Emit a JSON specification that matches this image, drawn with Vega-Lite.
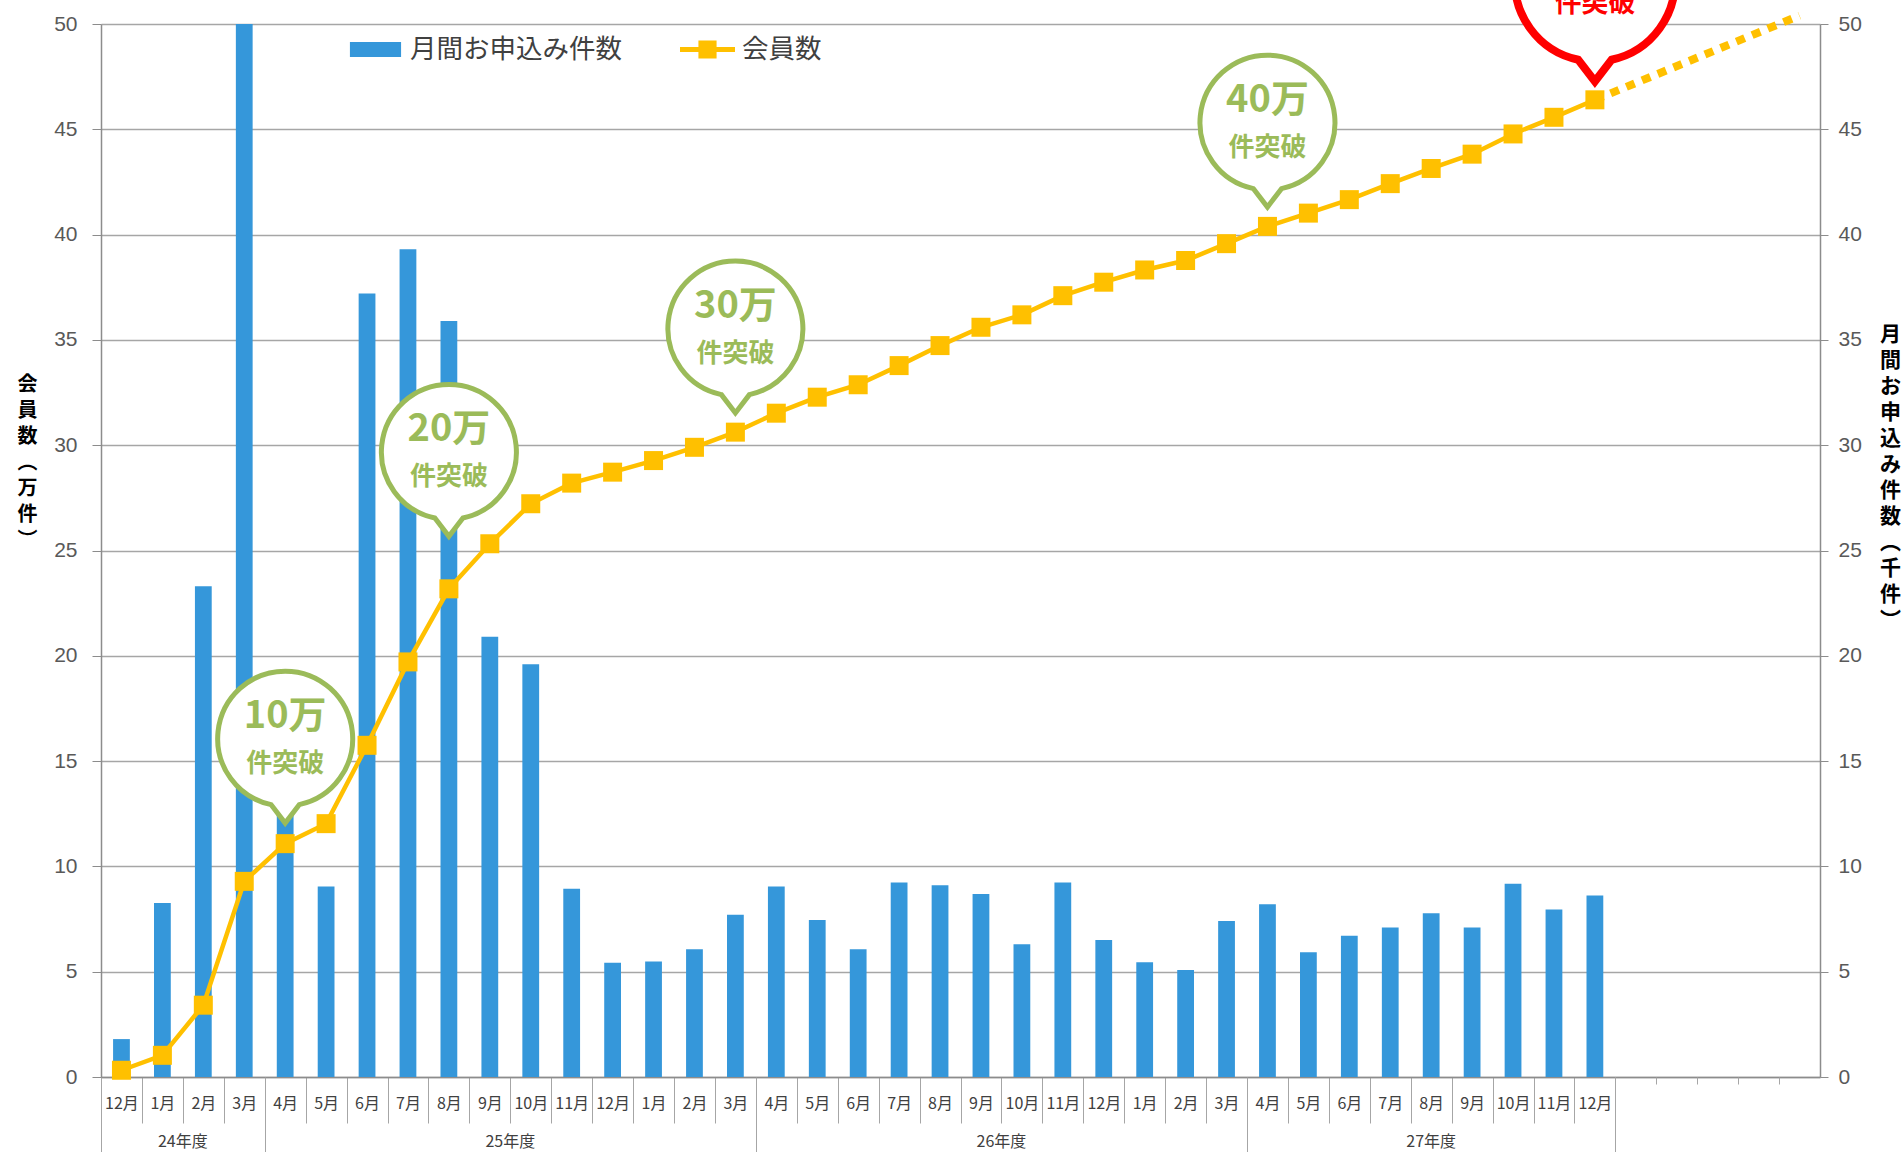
{
  "$schema": "https://vega.github.io/schema/vega-lite/v6.json",
  "width": 1719,
  "height": 1053,
  "autosize": {"type": "none"},
  "padding": {"left": 101, "top": 24, "right": 84, "bottom": 75},
  "background": "white",
  "config": {"view": {"stroke": null}, "font": "Noto Sans CJK JP"},
  "datasets": {
    "monthly": [
      {"key": "24年度|12月", "apps": 1.8, "members": 0.32},
      {"key": "24年度|1月", "apps": 8.26, "members": 1.03},
      {"key": "24年度|2月", "apps": 23.3, "members": 3.41},
      {"key": "24年度|3月", "apps": 59, "members": 9.29},
      {"key": "25年度|4月", "apps": 18, "members": 11.08},
      {"key": "25年度|5月", "apps": 9.05, "members": 12.03},
      {"key": "25年度|6月", "apps": 37.2, "members": 15.75},
      {"key": "25年度|7月", "apps": 39.3, "members": 19.71},
      {"key": "25年度|8月", "apps": 35.9, "members": 23.18},
      {"key": "25年度|9月", "apps": 20.9, "members": 25.32},
      {"key": "25年度|10月", "apps": 19.6, "members": 27.22},
      {"key": "25年度|11月", "apps": 8.94, "members": 28.2},
      {"key": "25年度|12月", "apps": 5.42, "members": 28.72},
      {"key": "25年度|1月", "apps": 5.48, "members": 29.27},
      {"key": "25年度|2月", "apps": 6.07, "members": 29.9},
      {"key": "25年度|3月", "apps": 7.7, "members": 30.62},
      {"key": "26年度|4月", "apps": 9.05, "members": 31.52},
      {"key": "26年度|5月", "apps": 7.46, "members": 32.28},
      {"key": "26年度|6月", "apps": 6.07, "members": 32.87},
      {"key": "26年度|7月", "apps": 9.24, "members": 33.78},
      {"key": "26年度|8月", "apps": 9.11, "members": 34.73},
      {"key": "26年度|9月", "apps": 8.69, "members": 35.6},
      {"key": "26年度|10月", "apps": 6.3, "members": 36.19},
      {"key": "26年度|11月", "apps": 9.24, "members": 37.1},
      {"key": "26年度|12月", "apps": 6.5, "members": 37.74},
      {"key": "26年度|1月", "apps": 5.45, "members": 38.32},
      {"key": "26年度|2月", "apps": 5.08, "members": 38.77},
      {"key": "26年度|3月", "apps": 7.41, "members": 39.57},
      {"key": "27年度|4月", "apps": 8.2, "members": 40.39},
      {"key": "27年度|5月", "apps": 5.92, "members": 41.02},
      {"key": "27年度|6月", "apps": 6.71, "members": 41.66},
      {"key": "27年度|7月", "apps": 7.1, "members": 42.42},
      {"key": "27年度|8月", "apps": 7.78, "members": 43.14},
      {"key": "27年度|9月", "apps": 7.1, "members": 43.82},
      {"key": "27年度|10月", "apps": 9.18, "members": 44.78},
      {"key": "27年度|11月", "apps": 7.95, "members": 45.57},
      {"key": "27年度|12月", "apps": 8.62, "members": 46.4}
    ],
    "proj": [
      {"key": "27年度|12月", "proj": 46.4},
      {"key": "-|5", "proj": 50.4}
    ],
    "bubbles": [
      {"key": "25年度|4月", "tip": 12.06, "big": "10万", "small": "件突破", "kind": "g"},
      {"key": "25年度|8月", "tip": 25.67, "big": "20万", "small": "件突破", "kind": "g"},
      {"key": "25年度|3月", "tip": 31.53, "big": "30万", "small": "件突破", "kind": "g"},
      {"key": "27年度|4月", "tip": 41.31, "big": "40万", "small": "件突破", "kind": "g"},
      {"key": "27年度|12月", "tip": 47.27, "big": "", "small": "件突破", "kind": "r"}
    ]
  },
  "encoding": {
    "x": {
      "field": "key", "type": "nominal", "sort": null,
      "scale": {"domain": ["24年度|12月","24年度|1月","24年度|2月","24年度|3月","25年度|4月","25年度|5月","25年度|6月","25年度|7月","25年度|8月","25年度|9月","25年度|10月","25年度|11月","25年度|12月","25年度|1月","25年度|2月","25年度|3月","26年度|4月","26年度|5月","26年度|6月","26年度|7月","26年度|8月","26年度|9月","26年度|10月","26年度|11月","26年度|12月","26年度|1月","26年度|2月","26年度|3月","27年度|4月","27年度|5月","27年度|6月","27年度|7月","27年度|8月","27年度|9月","27年度|10月","27年度|11月","27年度|12月","-|1","-|2","-|3","-|4","-|5"], "paddingInner": 0, "paddingOuter": 0},
      "axis": null
    }
  },
  "layer": [
    {
      "data": {"name": "monthly"},
      "mark": {"type": "bar", "clip": true, "width": {"band": 0.41}},
      "encoding": {
        "x": {
          "field": "key", "type": "nominal", "sort": null,
          "scale": {"domain": ["24年度|12月","24年度|1月","24年度|2月","24年度|3月","25年度|4月","25年度|5月","25年度|6月","25年度|7月","25年度|8月","25年度|9月","25年度|10月","25年度|11月","25年度|12月","25年度|1月","25年度|2月","25年度|3月","26年度|4月","26年度|5月","26年度|6月","26年度|7月","26年度|8月","26年度|9月","26年度|10月","26年度|11月","26年度|12月","26年度|1月","26年度|2月","26年度|3月","27年度|4月","27年度|5月","27年度|6月","27年度|7月","27年度|8月","27年度|9月","27年度|10月","27年度|11月","27年度|12月","-|1","-|2","-|3","-|4","-|5"], "paddingInner": 0, "paddingOuter": 0},
          "axis": {
            "title": null, "orient": "bottom", "grid": false,
            "domain": true, "domainColor": "#8C8C8C", "domainWidth": 1.5,
            "ticks": true, "tickBand": "extent", "tickSize": 46, "tickColor": "#A6A6A6", "tickWidth": 1,
            "tickOpacity": {"condition": {"test": "isString(datum.value) && indexof(datum.value, '-|') === 0", "value": 0}, "value": 1},
            "labelExpr": "isString(datum.value) && indexof(datum.value, '-|') !== 0 ? split(datum.value, '|')[1] : ''",
            "labelAngle": 0, "labelFontSize": 16, "labelColor": "#404040", "labelPadding": -28, "labelOverlap": false,
            "labelFont": "Noto Sans CJK JP"
          }
        },
        "y": {
          "field": "apps", "type": "quantitative",
          "scale": {"domain": [0, 50], "nice": false},
          "axis": {
            "orient": "right", "values": [0,5,10,15,20,25,30,35,40,45,50], "grid": false,
            "domain": true, "domainColor": "#8C8C8C", "domainWidth": 1.5,
            "ticks": true, "tickSize": 8, "tickColor": "#8C8C8C",
            "labelFont": "Liberation Sans", "labelFontSize": 21, "labelColor": "#595959", "labelPadding": 10,
            "title": ["月","間","お","申","込","み","件","数","︵","千","件","︶"],
            "titleAngle": 0, "titleFont": "Noto Sans CJK JP", "titleFontSize": 21, "titleFontWeight": "bold", "titleColor": "#000000",
            "titleLineHeight": 26, "titleAlign": "center", "titleBaseline": "top", "titleX": 70, "titleY": 299
          }
        },
        "color": {
          "datum": "月間お申込み件数", "type": "nominal",
          "scale": {"domain": ["月間お申込み件数"], "range": ["#3597DA"]},
          "legend": {
            "orient": "none", "legendX": 247, "legendY": -2, "direction": "horizontal", "title": null, "padding": 0,
            "symbolType": "M-0.93,-0.27L0.93,-0.27L0.93,0.27L-0.93,0.27Z",
            "symbolSize": 3025, "symbolStrokeWidth": 0, "symbolOpacity": 1,
            "labelFontSize": 26.5, "labelFont": "Noto Sans CJK JP", "labelColor": "#404040",
            "labelLimit": 400, "labelOffset": 7
          }
        }
      }
    },
    {
      "data": {"name": "monthly"},
      "mark": {"type": "line", "strokeWidth": 4.5},
      "encoding": {
        "x": {
          "field": "key", "type": "nominal", "sort": null,
          "scale": {"domain": ["24年度|12月","24年度|1月","24年度|2月","24年度|3月","25年度|4月","25年度|5月","25年度|6月","25年度|7月","25年度|8月","25年度|9月","25年度|10月","25年度|11月","25年度|12月","25年度|1月","25年度|2月","25年度|3月","26年度|4月","26年度|5月","26年度|6月","26年度|7月","26年度|8月","26年度|9月","26年度|10月","26年度|11月","26年度|12月","26年度|1月","26年度|2月","26年度|3月","27年度|4月","27年度|5月","27年度|6月","27年度|7月","27年度|8月","27年度|9月","27年度|10月","27年度|11月","27年度|12月","-|1","-|2","-|3","-|4","-|5"], "paddingInner": 0, "paddingOuter": 0},
          "axis": {
            "title": null, "orient": "bottom", "grid": false, "domain": false, "labels": false,
            "values": ["24年度|12月","24年度|3月","25年度|3月","26年度|3月","27年度|12月"],
            "ticks": true, "tickBand": "extent", "tickSize": 80, "tickColor": "#A6A6A6", "tickWidth": 1,
            "tickOpacity": {"condition": {"test": "datum.value === '24年度|12月'", "value": 0}, "value": 1}
          }
        },
        "y": {
          "field": "members", "type": "quantitative",
          "scale": {"domain": [0, 50], "nice": false},
          "axis": {
            "orient": "left", "values": [0,5,10,15,20,25,30,35,40,45,50],
            "grid": true, "gridColor": "#A6A6A6", "gridWidth": 1.5,
            "domain": true, "domainColor": "#8C8C8C", "domainWidth": 1.5,
            "ticks": true, "tickSize": 9, "tickColor": "#8C8C8C",
            "labelFont": "Liberation Sans", "labelFontSize": 21, "labelColor": "#595959", "labelPadding": 15,
            "title": ["会","員","数","︵","万","件","︶"],
            "titleAngle": 0, "titleFont": "Noto Sans CJK JP", "titleFontSize": 20, "titleFontWeight": "bold", "titleColor": "#000000",
            "titleLineHeight": 26, "titleAlign": "center", "titleBaseline": "top", "titleX": -74, "titleY": 350
          }
        },
        "stroke": {
          "datum": "会員数", "type": "nominal",
          "scale": {"domain": ["会員数"], "range": ["#FFC000"]},
          "legend": {
            "orient": "none", "legendX": 579, "legendY": -2, "direction": "horizontal", "title": null, "padding": 0,
            "symbolType": "M-1,-0.09L1,-0.09L1,0.09L-1,0.09Z M-0.33,-0.33L0.33,-0.33L0.33,0.33L-0.33,0.33Z",
            "symbolSize": 3025, "symbolStrokeWidth": 0, "symbolFillColor": "#FFC000", "symbolOpacity": 1,
            "labelFontSize": 26.5, "labelFont": "Noto Sans CJK JP", "labelColor": "#404040",
            "labelLimit": 400, "labelOffset": 7
          }
        }
      }
    },
    {
      "data": {"name": "monthly"},
      "mark": {"type": "point", "shape": "square", "filled": true, "size": 361, "color": "#FFC000", "opacity": 1},
      "encoding": {
        "x": {
          "field": "key", "type": "nominal", "sort": null,
          "scale": {"domain": ["24年度|12月","24年度|1月","24年度|2月","24年度|3月","25年度|4月","25年度|5月","25年度|6月","25年度|7月","25年度|8月","25年度|9月","25年度|10月","25年度|11月","25年度|12月","25年度|1月","25年度|2月","25年度|3月","26年度|4月","26年度|5月","26年度|6月","26年度|7月","26年度|8月","26年度|9月","26年度|10月","26年度|11月","26年度|12月","26年度|1月","26年度|2月","26年度|3月","27年度|4月","27年度|5月","27年度|6月","27年度|7月","27年度|8月","27年度|9月","27年度|10月","27年度|11月","27年度|12月","-|1","-|2","-|3","-|4","-|5"], "paddingInner": 0, "paddingOuter": 0},
          "axis": {
            "title": null, "orient": "bottom", "grid": false, "domain": false, "ticks": false, "tickSize": 0,
            "values": ["24年度|1月","25年度|9月","26年度|9月"],
            "labelExpr": "isString(datum.value) ? split(datum.value, '|')[0] : ''", "labelOffset": 20.45,
            "labelAngle": 0, "labelPadding": 56, "labelFontSize": 16, "labelColor": "#404040", "labelOverlap": false,
            "labelFont": "Noto Sans CJK JP"
          }
        },
        "y": {"field": "members", "type": "quantitative", "scale": {"domain": [0, 50], "nice": false}, "axis": null}
      }
    },
    {
      "data": {"name": "proj"},
      "mark": {"type": "line", "strokeWidth": 8, "strokeDash": [9, 8], "strokeCap": "butt", "color": "#FFC000"},
      "encoding": {
        "x": {
          "field": "key", "type": "nominal", "sort": null,
          "scale": {"domain": ["24年度|12月","24年度|1月","24年度|2月","24年度|3月","25年度|4月","25年度|5月","25年度|6月","25年度|7月","25年度|8月","25年度|9月","25年度|10月","25年度|11月","25年度|12月","25年度|1月","25年度|2月","25年度|3月","26年度|4月","26年度|5月","26年度|6月","26年度|7月","26年度|8月","26年度|9月","26年度|10月","26年度|11月","26年度|12月","26年度|1月","26年度|2月","26年度|3月","27年度|4月","27年度|5月","27年度|6月","27年度|7月","27年度|8月","27年度|9月","27年度|10月","27年度|11月","27年度|12月","-|1","-|2","-|3","-|4","-|5"], "paddingInner": 0, "paddingOuter": 0},
          "axis": {
            "title": null, "orient": "bottom", "grid": false, "domain": false, "ticks": false, "tickSize": 0,
            "values": ["27年度|8月"],
            "labelExpr": "isString(datum.value) ? split(datum.value, '|')[0] : ''", "labelOffset": 0,
            "labelAngle": 0, "labelPadding": 56, "labelFontSize": 16, "labelColor": "#404040", "labelOverlap": false,
            "labelFont": "Noto Sans CJK JP"
          }
        },
        "y": {"field": "proj", "type": "quantitative", "scale": {"domain": [0, 50], "nice": false}, "axis": null}
      }
    },
    {
      "data": {"name": "bubbles"},
      "transform": [{"filter": "datum.kind === 'g'"}],
      "mark": {"type": "point", "filled": true, "fill": "#FFFFFF", "stroke": "#9BBB59", "strokeWidth": 5, "opacity": 1, "fillOpacity": 1, "strokeOpacity": 1, "size": 18225,
        "shape": "M0.2079,-0.2719 C0.7085,-0.3783 1.048,-0.8455 0.9945,-1.3545 C0.941,-1.8635 0.5118,-2.25 0,-2.25 C-0.5118,-2.25 -0.941,-1.8635 -0.9945,-1.3545 C-1.048,-0.8455 -0.7085,-0.3783 -0.2079,-0.2719 L0,0 Z"},
      "encoding": {
        "x": {
          "field": "key", "type": "nominal", "sort": null,
          "scale": {"domain": ["24年度|12月","24年度|1月","24年度|2月","24年度|3月","25年度|4月","25年度|5月","25年度|6月","25年度|7月","25年度|8月","25年度|9月","25年度|10月","25年度|11月","25年度|12月","25年度|1月","25年度|2月","25年度|3月","26年度|4月","26年度|5月","26年度|6月","26年度|7月","26年度|8月","26年度|9月","26年度|10月","26年度|11月","26年度|12月","26年度|1月","26年度|2月","26年度|3月","27年度|4月","27年度|5月","27年度|6月","27年度|7月","27年度|8月","27年度|9月","27年度|10月","27年度|11月","27年度|12月","-|1","-|2","-|3","-|4","-|5"], "paddingInner": 0, "paddingOuter": 0},
          "axis": {
            "title": null, "orient": "bottom", "grid": false, "domain": false, "labels": false,
            "values": ["-|1","-|2","-|3","-|4"],
            "ticks": true, "tickBand": "extent", "tickSize": 7, "tickColor": "#A6A6A6", "tickWidth": 1
          }
        },
        "y": {"field": "tip", "type": "quantitative", "scale": {"domain": [0, 50], "nice": false}, "axis": null}
      }
    },
    {
      "data": {"name": "bubbles"},
      "transform": [{"filter": "datum.kind === 'r'"}],
      "mark": {"type": "point", "filled": true, "fill": "#FFFFFF", "stroke": "#FF0000", "strokeWidth": 8, "opacity": 1, "fillOpacity": 1, "strokeOpacity": 1, "size": 25600,
        "shape": "M0.2079,-0.2719 C0.7085,-0.3783 1.048,-0.8455 0.9945,-1.3545 C0.941,-1.8635 0.5118,-2.25 0,-2.25 C-0.5118,-2.25 -0.941,-1.8635 -0.9945,-1.3545 C-1.048,-0.8455 -0.7085,-0.3783 -0.2079,-0.2719 L0,0 Z"},
      "encoding": {
        "y": {"field": "tip", "type": "quantitative", "scale": {"domain": [0, 50], "nice": false}, "axis": null}
      }
    },
    {
      "data": {"name": "bubbles"},
      "transform": [{"filter": "datum.kind === 'g'"}],
      "mark": {"type": "text", "dy": -106, "baseline": "middle", "align": "center", "font": "Noto Sans CJK JP", "fontSize": 38, "fontWeight": "bold", "color": "#9BBB59"},
      "encoding": {
        "y": {"field": "tip", "type": "quantitative", "scale": {"domain": [0, 50], "nice": false}, "axis": null},
        "text": {"field": "big"}
      }
    },
    {
      "data": {"name": "bubbles"},
      "transform": [{"filter": "datum.kind === 'g'"}],
      "mark": {"type": "text", "dy": -59, "baseline": "middle", "align": "center", "font": "Noto Sans CJK JP", "fontSize": 26, "fontWeight": "bold", "color": "#9BBB59"},
      "encoding": {
        "y": {"field": "tip", "type": "quantitative", "scale": {"domain": [0, 50], "nice": false}, "axis": null},
        "text": {"field": "small"}
      }
    },
    {
      "data": {"name": "bubbles"},
      "transform": [{"filter": "datum.kind === 'r'"}],
      "mark": {"type": "text", "dy": -77, "baseline": "middle", "align": "center", "font": "Noto Sans CJK JP", "fontSize": 27, "fontWeight": "bold", "color": "#FF0000"},
      "encoding": {
        "y": {"field": "tip", "type": "quantitative", "scale": {"domain": [0, 50], "nice": false}, "axis": null},
        "text": {"field": "small"}
      }
    }
  ],
  "resolve": {"scale": {"y": "independent"}, "axis": {"x": "independent", "y": "independent"}}
}
